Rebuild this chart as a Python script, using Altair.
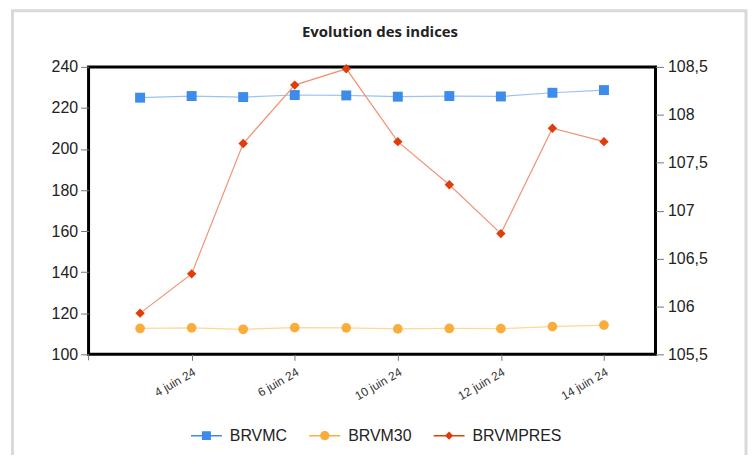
import altair as alt
import pandas as pd

dates = ["3 juin 24", "4 juin 24", "5 juin 24", "6 juin 24", "7 juin 24",
         "10 juin 24", "11 juin 24", "12 juin 24", "13 juin 24", "14 juin 24"]
brvmc = [225.0, 225.8, 225.3, 226.3, 226.1, 225.5, 225.8, 225.6, 227.4, 228.7]
brvm30 = [112.6, 112.9, 112.2, 113.0, 112.9, 112.4, 112.6, 112.5, 113.5, 114.2]
brvmpres = [105.93, 106.34, 107.70, 108.31, 108.48, 107.72, 107.27, 106.76, 107.86, 107.72]
series_names = ["BRVMC", "BRVM30", "BRVMPRES"]
left_ticks = [100, 120, 140, 160, 180, 200, 220, 240]
right_ticks = [105.5, 106, 106.5, 107, 107.5, 108, 108.5]
x_label_values = ["4 juin 24", "6 juin 24", "10 juin 24", "12 juin 24", "14 juin 24"]
title_text = "Evolution des indices"

marker_colors = ["#3d8ceb", "#fbad3c", "#e03d0c"]
line_colors = ["#9cc2f2", "#fdd896", "#f09373"]

rows = []
for s, vals in zip(series_names, [brvmc, brvm30, brvmpres]):
    for d, v in zip(dates, vals):
        rows.append({"date": d, "series": s, "value": v})
df = pd.DataFrame(rows)

FONT = "Liberation Sans"
W, H = 570, 289

x_enc = alt.X(
    "date:O", sort=dates, title=None,
    scale=alt.Scale(type="point", padding=1),
    axis=alt.Axis(values=x_label_values, labelAngle=330, labelAlign="right",
                  labelBaseline="top", labelFontSize=12, labelColor="#333",
                  labelFont=FONT, tickSize=6, tickColor="#777", domain=False,
                  grid=False, labelPadding=6),
)

def series_layer(name, color, lcolor, shape, size, y_scale, y_axis):
    base = alt.Chart(df).transform_filter(alt.datum.series == name)
    y = alt.Y("value:Q", scale=y_scale, axis=y_axis, title=None)
    line = base.mark_line(color=lcolor, strokeWidth=1.2).encode(x=x_enc, y=y)
    pts = base.mark_point(filled=True, shape=shape, size=size, color=color,
                          opacity=1).encode(x=x_enc, y=y)
    return line, pts

left_scale = alt.Scale(domain=[100, 240], nice=False, zero=False)
left_axis = alt.Axis(values=left_ticks, labelFontSize=16, labelFont=FONT,
                     labelColor="#222", tickSize=8, tickColor="#777",
                     labelPadding=3, domain=False, grid=False)
right_scale = alt.Scale(domain=[105.5, 108.5], nice=False, zero=False)
right_axis = alt.Axis(orient="right", values=right_ticks, labelFontSize=16,
                      labelFont=FONT, labelColor="#222", tickSize=8,
                      tickColor="#777", labelPadding=4, domain=False, grid=False,
                      labelExpr="replace(format(datum.value, '.1~f'), '.', ',')")

b_line, b_pts = series_layer("BRVMC", marker_colors[0], line_colors[0], "square", 100,
                             left_scale, left_axis)
o_line, o_pts = series_layer("BRVM30", marker_colors[1], line_colors[1], "circle", 95,
                             left_scale, left_axis)
r_line, r_pts = series_layer("BRVMPRES", marker_colors[2], line_colors[2], "diamond", 90,
                             right_scale, right_axis)

left = alt.layer(b_line, o_line, b_pts, o_pts)
right = alt.layer(r_line, r_pts)

one = alt.Data(values=[{"k": 1}])

frame = alt.Chart(one).mark_rect(fillOpacity=0, stroke="#d9d9d9", strokeWidth=3).encode(
    x=alt.value(-76.5), x2=alt.value(661), y=alt.value(-56.5), y2=alt.value(430)
)
edge_tick = alt.Chart(one).mark_rule(color="#777", strokeWidth=1).encode(
    x=alt.value(0), y=alt.value(H), y2=alt.value(H + 6)
)
title_mark = alt.Chart(one).mark_text(
    text=title_text, font="Open Sans", fontSize=15, fontWeight="bold",
    color="#222", align="center", baseline="alphabetic"
).encode(x=alt.value(293), y=alt.value(-30))

bar = "M-1,-0.05H1V0.05H-1Z"
legend_shapes = [
    bar + "M-0.29,-0.29H0.29V0.29H-0.29Z",
    bar + "M-0.3,0A0.3,0.3 0 1,1 0.3,0A0.3,0.3 0 1,1 -0.3,0Z",
    bar + "M0,-0.27L0.27,0L0,0.27L-0.27,0Z",
]

legend_layer = alt.Chart(df).transform_filter("false").mark_point(
    filled=True, size=961, opacity=1
).encode(
    color=alt.Color("series:N", scale=alt.Scale(domain=series_names, range=marker_colors),
                    legend=alt.Legend(orient="none", legendX=103, legendY=355,
                                      direction="horizontal", title=None,
                                      symbolSize=961, labelFontSize=16, labelFont=FONT,
                                      labelColor="#222", labelOffset=8,
                                      columnPadding=22, symbolStrokeWidth=0,
                                      padding=0)),
    shape=alt.Shape("series:N", scale=alt.Scale(domain=series_names, range=legend_shapes)),
)

chart = alt.layer(frame, title_mark, left, right, legend_layer, edge_tick).resolve_scale(
    y="independent"
).properties(
    width=W, height=H,
    background="white",
    autosize=alt.AutoSizeParams(type="none"),
    padding={"left": 81, "top": 58, "right": 93, "bottom": 100},
).configure_view(stroke="#000", strokeWidth=3)

chart.save("out.html", embed_options={"renderer": "svg", "actions": False})
